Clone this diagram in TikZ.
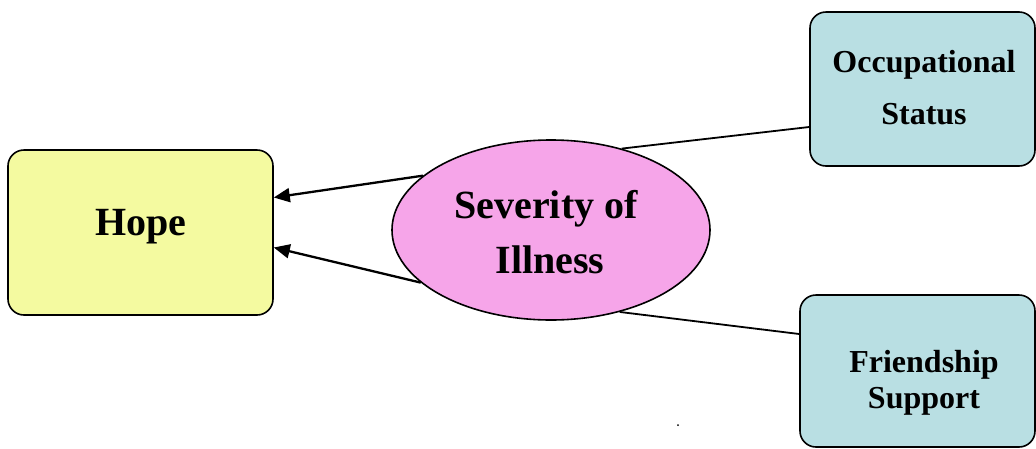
\documentclass[tikz,border=0pt]{standalone}
\usepackage{fontspec}
\setmainfont{Liberation Serif}
\usetikzlibrary{arrows.meta,shapes.geometric,calc}
\definecolor{hopeyel}{RGB}{244,250,160}
\definecolor{sevpink}{RGB}{246,165,233}
\definecolor{boxblue}{RGB}{185,223,227}
\tikzset{
  rbox/.style={draw=black, line width=1.6pt, rounded corners=16pt, inner sep=0pt},
  bigtxt/.style={font=\fontsize{40}{48}\selectfont\bfseries, inner sep=0pt, anchor=base},
  smtxt/.style={font=\fontsize{32}{38}\selectfont\bfseries, inner sep=0pt, anchor=base},
  conn/.style={draw=black, line width=1.8pt},
  arr/.style={draw=black, line width=2.3pt, -{Triangle[length=16pt,width=14pt]}}
}
\begin{document}
\begin{tikzpicture}[x=1pt,y=-1pt]
\useasboundingbox (0,0) rectangle (1036,448);
% nodes
\node[rbox, fill=hopeyel, minimum width=265pt, minimum height=165pt] (hope) at (140.5,232.5) {};
\node[draw=black, line width=1.6pt, fill=sevpink, ellipse, inner sep=0pt, minimum width=318pt, minimum height=180pt] (sev) at (551,230) {};
\node[rbox, fill=boxblue, minimum width=225pt, minimum height=154pt] (occ) at (922.5,89) {};
\node[rbox, fill=boxblue, minimum width=235pt, minimum height=152pt] (fri) at (917.5,371) {};
% texts
\node[bigtxt] (hopeT) at (141,235) {Hope};
\node[bigtxt] (sevT1) at (546,218) {Severity of};
\node[bigtxt] (sevT2) at (550,273) {Illness};
\node[smtxt] (occT1) at (924,72) {Occupational};
\node[smtxt] (occT2) at (924,124) {Status};
\node[smtxt] (friT1) at (924,372) {Friendship};
\node[smtxt] (friT2) at (924,408) {Support};
% connectors
\coordinate (occIn) at ($(occ.west)+(0,38)$);
\coordinate (friIn) at ($(fri.west)+(0,-37)$);
\draw[conn] (sev.49) -- (occIn);
\draw[conn] (sev.310) -- (friIn);
\coordinate (hopeA) at ($(hope.east)+(0,-35)$);
\coordinate (hopeB) at ($(hope.east)+(0,15)$);
\draw[arr] (sev.157) -- (hopeA);
\draw[arr] (sev.202) -- (hopeB);
% stray dot
\fill[black] (678,425) circle (1pt);
\end{tikzpicture}
\end{document}
